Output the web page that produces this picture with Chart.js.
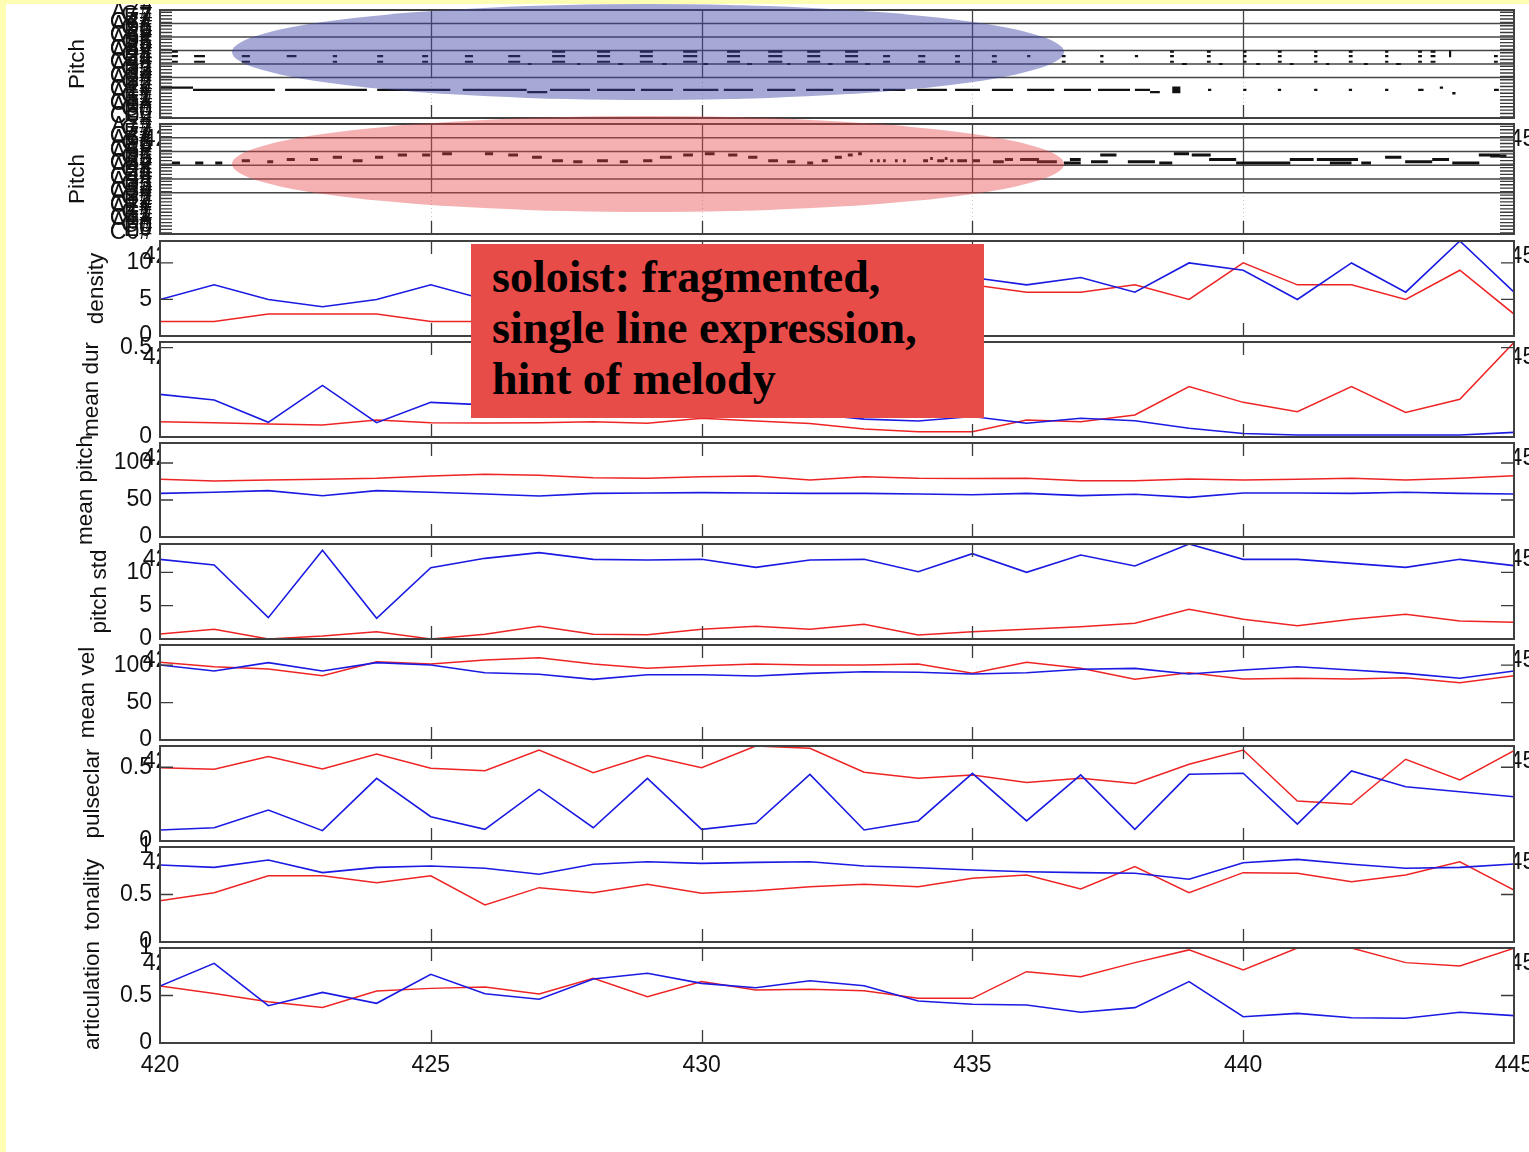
<!DOCTYPE html>
<html>
<head>
<meta charset="utf-8">
<title>Ensemble feature tracks, bars 420-445</title>
<script src="https://cdn.jsdelivr.net/npm/chart.js@4.4.1/dist/chart.umd.min.js"></script>
<style>
  html, body { margin: 0; padding: 0; }
  body { width: 1529px; height: 1152px; position: relative; overflow: hidden; background: #fff; }
  canvas.panel { position: absolute; left: 0; }
  .rim-left { position: absolute; left: 0; top: 0; width: 6px; height: 1152px; background: #fdfdb3; }
  .rim-top { position: absolute; left: 0; top: 0; width: 1529px; height: 4px; background: #fdfdb3; }
  .halo { position: absolute; border-radius: 50%; pointer-events: none; }
  .halo.accomp { left: 232px; top: 4px; width: 832px; height: 96px; background: rgba(58, 64, 165, 0.45); }
  .halo.solo { left: 232px; top: 116px; width: 832px; height: 96px; background: rgba(232, 68, 68, 0.42); }
  .callout {
    position: absolute; left: 471px; top: 244px; width: 513px; height: 174px;
    box-sizing: border-box; padding: 7px 0 0 21px;
    background: #e84c49; color: #000;
    font: bold 46px/51px "Liberation Serif", "Times New Roman", serif;
    white-space: nowrap;
  }
</style>
</head>
<body>
<div id="stack"></div>
<div class="halo accomp"></div>
<div class="halo solo"></div>
<div class="callout">soloist: fragmented,<br>single line expression,<br>hint of melody</div>
<div class="rim-left"></div>
<div class="rim-top"></div>
<script>
// ---------------- bar positions and axis ticks ----------------
const measures = [420, 421, 422, 423, 424, 425, 426, 427, 428, 429, 430, 431, 432,
                  433, 434, 435, 436, 437, 438, 439, 440, 441, 442, 443, 444, 445];
const xTickValues = [420, 425, 430, 435, 440, 445];

// ---------------- feature tracks (blue = accompaniment, red = soloist) ----------------
const densityAccomp = [5, 7, 5, 4, 5, 7, 5, 6, 6, 7, 6, 7, 6, 7, 6, 8, 7, 8, 6, 10, 9, 5, 10, 6, 13, 6];
const densitySolo   = [2, 2, 3, 3, 3, 2, 2, 2, 3, 2, 3, 3, 4, 5, 6, 7, 6, 6, 7, 5, 10, 7, 7, 5, 9, 3];

const meanDurAccomp = [0.239, 0.207, 0.082, 0.289, 0.080, 0.194, 0.18, 0.17, 0.16, 0.16, 0.15, 0.14, 0.13,
                       0.10, 0.09, 0.115, 0.077, 0.105, 0.091, 0.049, 0.02, 0.011, 0.011, 0.011, 0.011, 0.026];
const meanDurSolo   = [0.086, 0.08, 0.073, 0.067, 0.095, 0.08, 0.078, 0.08, 0.085, 0.077, 0.105, 0.09, 0.075,
                       0.045, 0.03, 0.03, 0.095, 0.086, 0.123, 0.282, 0.194, 0.142, 0.282, 0.138, 0.211, 0.53];

const meanPitchAccomp = [59, 60.4, 62.6, 55.8, 62.6, 60.4, 58.1, 55.4, 59, 59.5, 60, 59.5, 59,
                         59, 58, 57, 59, 55.9, 57.7, 53.6, 59.5, 59.5, 59, 60.4, 59, 58];
const meanPitchSolo   = [78, 75.7, 77, 78, 79.3, 82.4, 84.7, 83.5, 80.2, 79.3, 81.5, 82.4, 77,
                         81.5, 79.3, 79, 79.3, 76, 76, 78.5, 77, 78, 79.3, 77, 79.3, 82.8];

const pitchStdAccomp = [11.95, 11.1, 3.2, 13.3, 3.1, 10.7, 12.1, 12.95, 11.95, 11.85, 11.95, 10.75, 11.85,
                        11.95, 10.1, 12.8, 10.0, 12.6, 10.95, 14.25, 11.95, 11.95, 11.35, 10.75, 11.95, 11.0];
const pitchStdSolo   = [0.75, 1.45, 0, 0.45, 1.1, 0, 0.7, 1.9, 0.7, 0.65, 1.45, 1.9, 1.45,
                        2.2, 0.6, 1.1, 1.45, 1.85, 2.35, 4.45, 2.95, 2.0, 2.95, 3.7, 2.7, 2.5];

const meanVelAccomp = [100.3, 92.2, 103.4, 92.2, 103.4, 100.3, 90, 87.8, 81.1, 87.3, 87.3, 85.6, 89.1,
                       91.3, 90.5, 88.2, 90, 94.5, 95.8, 88.2, 93.6, 98, 93.6, 89.1, 82.5, 92.2];
const meanVelSolo   = [103.9, 98, 95, 86, 104.7, 101.6, 107, 110, 101.6, 95.8, 99.4, 101.6, 100.3,
                       100.3, 101.6, 89.1, 103.9, 95.8, 81.1, 90, 81.6, 82.5, 81.6, 83.3, 76.6, 86];

const pulseAccomp = [0.075, 0.09, 0.21, 0.07, 0.425, 0.165, 0.079, 0.35, 0.09, 0.425, 0.079, 0.12, 0.452,
                     0.075, 0.136, 0.459, 0.136, 0.448, 0.079, 0.452, 0.459, 0.115, 0.475, 0.368, 0.334, 0.30];
const pulseSolo   = [0.497, 0.486, 0.572, 0.488, 0.59, 0.493, 0.477, 0.617, 0.463, 0.579, 0.497, 0.644, 0.629,
                     0.466, 0.425, 0.447, 0.396, 0.425, 0.39, 0.52, 0.617, 0.271, 0.249, 0.554, 0.414, 0.613];

const tonalityAccomp = [0.81, 0.786, 0.863, 0.73, 0.786, 0.8, 0.776, 0.713, 0.818, 0.845, 0.828, 0.838, 0.845,
                        0.8, 0.782, 0.758, 0.74, 0.73, 0.723, 0.66, 0.835, 0.87, 0.818, 0.776, 0.786, 0.821];
const tonalitySolo   = [0.435, 0.519, 0.698, 0.698, 0.624, 0.697, 0.39, 0.572, 0.519, 0.607, 0.512, 0.54, 0.582,
                        0.607, 0.582, 0.67, 0.705, 0.558, 0.793, 0.519, 0.73, 0.723, 0.635, 0.705, 0.845, 0.547];

const articulationAccomp = [0.6, 0.839, 0.393, 0.533, 0.418, 0.723, 0.518, 0.46, 0.674, 0.734, 0.628, 0.582, 0.656,
                            0.603, 0.442, 0.408, 0.4, 0.323, 0.372, 0.646, 0.277, 0.312, 0.266, 0.26, 0.323, 0.288];
const articulationSolo   = [0.6, 0.52, 0.435, 0.375, 0.547, 0.575, 0.59, 0.516, 0.681, 0.488, 0.646, 0.558, 0.565,
                            0.551, 0.47, 0.47, 0.751, 0.698, 0.846, 0.98, 0.768, 1.0, 1.0, 0.846, 0.81, 0.997];

// y tick values of each feature track
const densityTicks = [0, 5, 10];
const meanDurTicks = [0, 0.5];
const meanPitchTicks = [0, 50, 100];
const pitchStdTicks = [0, 5, 10];
const meanVelTicks = [0, 50, 100];
const pulseTicks = [0, 0.5];
const tonalityTicks = [0, 0.5, 1];
const articulationTicks = [0, 0.5, 1];

// piano-roll pitch ticks (MIDI numbers) and octave guide lines
const rollTicks = [13, 16, 19, 22, 25, 28, 31, 34, 37, 40, 43, 46, 49, 52, 55, 58,
                   61, 64, 67, 70, 73, 76, 79, 82, 85, 88, 91, 94, 97, 100, 103, 106];
const octaveLines = [48, 60, 72, 84, 96];

// ---------------- accompaniment notes: upper chords ----------------
const chordOnsets = [420.22, 420.63, 421.51, 422.34, 423.19, 424.01, 424.84, 425.63, 426.43, 426.79,
  427.24, 427.70, 428.07, 428.46, 428.86, 429.27, 429.66, 430.03, 430.47, 430.84,
  431.23, 431.58, 431.95, 432.33, 432.65, 433.02, 433.35, 434.00, 434.68, 435.36,
  436.01, 436.65, 437.36, 438.00, 438.65, 438.87, 439.33, 439.55, 440.00, 440.24,
  440.64, 440.86, 441.31, 441.53, 441.95, 442.23, 442.62, 442.82, 443.23, 443.46,
  443.80, 444.63];
const chordDurations = [0.11, 0.20, 0.15, 0.18, 0.08, 0.11, 0.11, 0.15, 0.22, 0.07,
  0.24, 0.06, 0.24, 0.09, 0.24, 0.09, 0.26, 0.09, 0.24, 0.09,
  0.26, 0.06, 0.24, 0.09, 0.24, 0.09, 0.13, 0.13, 0.09, 0.09,
  0.06, 0.07, 0.06, 0.06, 0.07, 0.09, 0.07, 0.07, 0.06, 0.07,
  0.07, 0.07, 0.06, 0.06, 0.07, 0.07, 0.06, 0.09, 0.07, 0.09,
  0.04, 0.07];
const chordPitches = [[71, 67, 62], [67, 62], [67, 62], [67], [67, 62], [67, 62], [67, 62], [67, 62], [67, 62], [60],
  [71, 67, 62], [60], [71, 67, 62], [60], [71, 67, 62], [60], [71, 67, 62], [60], [71, 67, 62], [60],
  [71, 67, 62], [60], [71, 67, 62], [60], [71, 67, 62], [60], [67, 62], [67, 62], [67, 62], [67, 62],
  [67], [67, 62], [67, 62], [67], [71, 67, 62], [60], [71, 67, 62], [60], [71, 67, 62], [60],
  [71, 67, 62], [60], [71, 67, 62], [60], [71, 67, 62], [60], [71, 67, 62], [60], [71, 67, 62], [71, 67, 62],
  [71, 69, 67], [67, 62]];

// ---------------- accompaniment notes: bass ----------------
const bassOnsets = [420.00, 420.61, 422.31, 424.01, 425.59, 426.78, 427.20, 428.07, 428.88, 429.66,
  430.41, 431.21, 431.93, 432.61, 433.35, 433.98, 434.68, 435.36, 436.01, 436.69,
  437.32, 438.00, 438.28, 438.69, 439.35, 440.00, 440.64, 441.31, 441.95, 442.62,
  443.23, 443.63, 443.86, 444.63];
const bassDurations = [0.61, 1.51, 1.51, 1.35, 1.18, 0.37, 0.74, 0.70, 0.59, 0.65,
  0.54, 0.52, 0.50, 0.68, 0.41, 0.55, 0.46, 0.39, 0.50, 0.50,
  0.59, 0.28, 0.18, 0.15, 0.06, 0.06, 0.06, 0.06, 0.06, 0.06,
  0.10, 0.06, 0.06, 0.09];
const bassPitches = [[39], [37], [37], [37], [37], [35], [37], [37], [37], [37],
  [37], [37], [37], [37], [37], [37], [37], [37], [37], [37],
  [37], [37], [35], [39, 37, 35], [37], [37], [37], [37], [37], [37],
  [37], [39], [34], [37]];

// ---------------- soloist notes ----------------
const soloOnsets = [420.22, 420.65, 421.02, 421.51, 421.98, 422.34, 422.77, 423.19, 423.56, 423.97,
  424.39, 424.84, 425.21, 426.00, 426.43, 426.87, 427.24, 427.63, 428.07, 428.49,
  428.92, 429.23, 429.66, 430.06, 430.49, 430.86, 431.23, 431.58, 431.95, 432.22,
  432.46, 432.70, 432.89, 433.11, 433.24, 433.35, 433.57, 433.72, 434.09, 434.22,
  434.35, 434.49, 434.59, 434.72, 435.01, 435.38, 435.60, 435.88, 436.19, 436.69,
  436.80, 437.19, 437.36, 437.87, 438.45, 438.72, 439.05, 439.37, 439.87, 440.86,
  441.36, 441.60, 442.18, 442.62, 442.99, 443.49, 443.86, 444.35, 444.56];
const soloDurations = [0.15, 0.15, 0.13, 0.15, 0.11, 0.15, 0.15, 0.17, 0.18, 0.15,
  0.17, 0.15, 0.18, 0.15, 0.18, 0.18, 0.20, 0.17, 0.20, 0.15,
  0.17, 0.22, 0.18, 0.18, 0.17, 0.17, 0.18, 0.15, 0.11, 0.11,
  0.13, 0.09, 0.07, 0.05, 0.05, 0.05, 0.05, 0.05, 0.09, 0.05,
  0.13, 0.05, 0.06, 0.18, 0.13, 0.20, 0.15, 0.35, 0.37, 0.31,
  0.20, 0.31, 0.30, 0.50, 0.24, 0.28, 0.35, 0.50, 1.00, 0.44,
  0.76, 0.40, 0.18, 0.30, 0.50, 0.31, 0.50, 0.39, 0.30];
const soloPitches = [74, 74, 74, 76, 75, 77, 77, 79, 76, 79,
  81, 81, 82, 82, 81, 79, 76, 75, 76, 75,
  76, 79, 81, 82, 81, 79, 76, 75, 74, 76,
  79, 81, 82, 76, 76, 76, 76, 76, 76, 78,
  76, 78, 76, 76, 76, 75, 77, 77, 75, 74,
  77, 75, 81, 75, 74, 82, 81, 77, 74, 77,
  77, 74, 74, 79, 75, 77, 74, 81, 80];

// ---------------- page layout ----------------
const PAGE_W = 1529, PLOT_L = 160, PLOT_R = 1514, PAD = 30;
const BLUE = 'rgb(26, 26, 226)', RED = 'rgb(238, 36, 36)', INK = '#3a3a3a';
const SANS = '"Liberation Sans", Arial, Helvetica, sans-serif';
Chart.defaults.font.family = SANS;

const NOTE_NAMES = ['C', 'C#', 'D', 'D#', 'E', 'F', 'F#', 'G', 'G#', 'A', 'A#', 'B'];
function noteLabel(m) {
  const n = NOTE_NAMES[m % 12];
  return n[0] + (Math.floor(m / 12) - 1) + (n.length > 1 ? '#' : '');
}

// note list -> line segments separated by gaps
function noteSegments(onsets, durations, pitches) {
  const pts = [];
  onsets.forEach((on, i) => {
    [].concat(pitches[i]).forEach(p => {
      pts.push({ x: on, y: p }, { x: on + durations[i], y: p }, { x: on + durations[i], y: null });
    });
  });
  return pts;
}
function track(values) { return measures.map((m, i) => ({ x: m, y: values[i] })); }

// MATLAB-style box: frame, inward ticks, octave guides, clipped edge labels
const matlabAxes = {
  id: 'matlabAxes',
  beforeDatasetsDraw(chart, _args, o) {
    if (!o.roll) return;
    const { ctx, chartArea: a, scales: { x, y } } = chart;
    ctx.save();
    ctx.lineWidth = 1;
    ctx.strokeStyle = '#c4c4c4';
    ctx.setLineDash([1, 3]);
    xTickValues.slice(1, -1).forEach(v => {
      const px = Math.round(x.getPixelForValue(v)) + 0.5;
      ctx.beginPath(); ctx.moveTo(px, a.top); ctx.lineTo(px, a.bottom); ctx.stroke();
    });
    ctx.setLineDash([]);
    ctx.strokeStyle = '#454545';
    ctx.lineWidth = 1.5;
    octaveLines.forEach(v => {
      const py = y.getPixelForValue(v);
      ctx.beginPath(); ctx.moveTo(a.left, py); ctx.lineTo(a.right, py); ctx.stroke();
    });
    const low = y.getPixelForValue(Math.min(...octaveLines));
    ctx.lineWidth = 1.3;
    xTickValues.slice(1, -1).forEach(v => {
      const px = Math.round(x.getPixelForValue(v)) + 0.5;
      ctx.beginPath(); ctx.moveTo(px, a.top); ctx.lineTo(px, low); ctx.stroke();
    });
    ctx.restore();
  },
  afterDatasetsDraw(chart, _args, o) {
    const { ctx, chartArea: a, scales: { x, y } } = chart;
    const L = 13;
    ctx.save();
    ctx.strokeStyle = INK;
    ctx.lineWidth = 1.3;
    y.ticks.forEach(t => {
      const py = y.getPixelForValue(t.value);
      ctx.beginPath();
      ctx.moveTo(a.left, py); ctx.lineTo(a.left + (o.roll ? 12 : L), py);
      ctx.moveTo(a.right, py); ctx.lineTo(a.right - (o.roll ? 14 : L), py);
      ctx.stroke();
    });
    xTickValues.slice(1, -1).forEach(v => {
      const px = Math.round(x.getPixelForValue(v)) + 0.5;
      ctx.beginPath();
      if (!o.roll) { ctx.moveTo(px, a.top); ctx.lineTo(px, a.top + L); }
      ctx.moveTo(px, a.bottom); ctx.lineTo(px, a.bottom - L);
      ctx.stroke();
    });
    ctx.lineWidth = 2;
    ctx.strokeStyle = '#404040';
    ctx.strokeRect(a.left, a.top, a.right - a.left, a.bottom - a.top);
    ctx.restore();
  },
  afterDraw(chart, _args, o) {
    if (!o.edgeLabels) return;
    const { ctx, chartArea: a, scales: { x } } = chart;
    const yy = a.top + 16;
    ctx.save();
    ctx.font = '23px ' + SANS;
    ctx.fillStyle = '#111';
    ctx.textAlign = 'center';
    ctx.textBaseline = 'middle';
    ctx.save();
    ctx.beginPath(); ctx.rect(0, 0, a.left - 1, chart.height); ctx.clip();
    ctx.fillText(String(xTickValues[0]), x.getPixelForValue(xTickValues[0]) + 2, yy);
    ctx.restore();
    ctx.beginPath(); ctx.rect(a.right + 1, 0, chart.width - a.right, chart.height); ctx.clip();
    const lastX = xTickValues[xTickValues.length - 1];
    ctx.fillText(String(lastX), x.getPixelForValue(lastX) + 2, yy);
    ctx.restore();
  }
};
Chart.register(matlabAxes);

const panels = [
  { top: 10, bottom: 118, title: 'Pitch', titleX: 78, roll: 'accomp' },
  { top: 124, bottom: 234, title: 'Pitch', titleX: 78, roll: 'solo' },
  { top: 241, bottom: 336, title: 'density', titleX: 97, accomp: densityAccomp, solo: densitySolo, ticks: densityTicks, max: 13 },
  { top: 342, bottom: 437, title: 'mean dur', titleX: 92, accomp: meanDurAccomp, solo: meanDurSolo, ticks: meanDurTicks, max: 0.532 },
  { top: 443, bottom: 537, title: 'mean pitch', titleX: 86, accomp: meanPitchAccomp, solo: meanPitchSolo, ticks: meanPitchTicks, max: 127 },
  { top: 544, bottom: 639, title: 'pitch std', titleX: 100, accomp: pitchStdAccomp, solo: pitchStdSolo, ticks: pitchStdTicks, max: 14.25 },
  { top: 645, bottom: 740, title: 'mean vel', titleX: 88, accomp: meanVelAccomp, solo: meanVelSolo, ticks: meanVelTicks, max: 127 },
  { top: 746, bottom: 841, title: 'pulseclar', titleX: 93, accomp: pulseAccomp, solo: pulseSolo, ticks: pulseTicks, max: 0.644 },
  { top: 847, bottom: 942, title: 'tonality', titleX: 93, accomp: tonalityAccomp, solo: tonalitySolo, ticks: tonalityTicks, max: 1 },
  { top: 948, bottom: 1043, title: 'articulation', titleX: 93, accomp: articulationAccomp, solo: articulationSolo, ticks: articulationTicks, max: 1, last: true }
];

panels.forEach((p, idx) => {
  const last = !!p.last;
  const padBottom = last ? 20 : PAD;
  const axisH = last ? 40 : 0;
  const h = (p.bottom - p.top) + PAD + padBottom + axisH;
  const canvas = document.createElement('canvas');
  canvas.className = 'panel';
  canvas.width = PAGE_W; canvas.height = h;
  canvas.style.width = PAGE_W + 'px'; canvas.style.height = h + 'px';
  canvas.style.top = (p.top - PAD) + 'px';
  document.getElementById('stack').appendChild(canvas);

  let datasets, yTicks, yMin, yMax, tickFont, tickLabel;
  if (p.roll) {
    const black = { borderColor: '#111', pointRadius: 0, borderCapStyle: 'butt', spanGaps: false, fill: false };
    if (p.roll === 'accomp') {
      datasets = [
        Object.assign({ label: 'chords', data: noteSegments(chordOnsets, chordDurations, chordPitches), borderWidth: 2.2 }, black),
        Object.assign({ label: 'bass', data: noteSegments(bassOnsets, bassDurations, bassPitches), borderWidth: 2.4 }, black)
      ];
    } else {
      datasets = [
        Object.assign({ label: 'soloist', data: noteSegments(soloOnsets, soloDurations, soloPitches), borderWidth: 3 }, black)
      ];
    }
    yTicks = rollTicks; yMin = 12; yMax = 108;
    tickFont = { size: 23 };
    tickLabel = v => noteLabel(v);
  } else {
    datasets = [
      { label: 'accompaniment', data: track(p.accomp), borderColor: BLUE, borderWidth: 1.6, pointRadius: 0, tension: 0, fill: false },
      { label: 'soloist', data: track(p.solo), borderColor: RED, borderWidth: 1.5, pointRadius: 0, tension: 0, fill: false }
    ];
    yTicks = p.ticks; yMin = 0; yMax = p.max;
    tickFont = { size: 23 };
    tickLabel = v => String(v);
  }

  new Chart(canvas, {
    type: 'line',
    data: { datasets },
    options: {
      responsive: false,
      animation: false,
      devicePixelRatio: 1,
      events: [],
      layout: { padding: { left: 0, right: PAGE_W - PLOT_R, top: PAD, bottom: padBottom } },
      plugins: {
        legend: { display: false },
        tooltip: { enabled: false },
        matlabAxes: { roll: !!p.roll, edgeLabels: idx > 0 }
      },
      scales: {
        x: {
          type: 'linear', min: 420, max: 445,
          afterBuildTicks: s => { s.ticks = xTickValues.map(v => ({ value: v })); },
          afterFit: s => { s.height = axisH; s.paddingLeft = 0; s.paddingRight = 0; },
          grid: { display: false, drawTicks: false },
          border: { display: false },
          ticks: { display: last, padding: 9, color: '#111', font: { size: 23 }, maxRotation: 0, autoSkip: false, callback: v => String(v) }
        },
        y: {
          type: 'linear', min: yMin, max: yMax,
          afterBuildTicks: s => { s.ticks = yTicks.map(v => ({ value: v })); },
          afterFit: s => { s.width = PLOT_L; s.paddingTop = 0; s.paddingBottom = 0; },
          grid: { display: false, drawTicks: false },
          border: { display: false },
          ticks: { padding: 8, color: '#111', font: tickFont, autoSkip: false, callback: tickLabel },
          title: { display: true, text: p.title, color: '#111', font: { size: 22.5 }, padding: { top: p.titleX - 13.5, bottom: 0 } }
        }
      }
    }
  });
});
</script>
</body>
</html>
